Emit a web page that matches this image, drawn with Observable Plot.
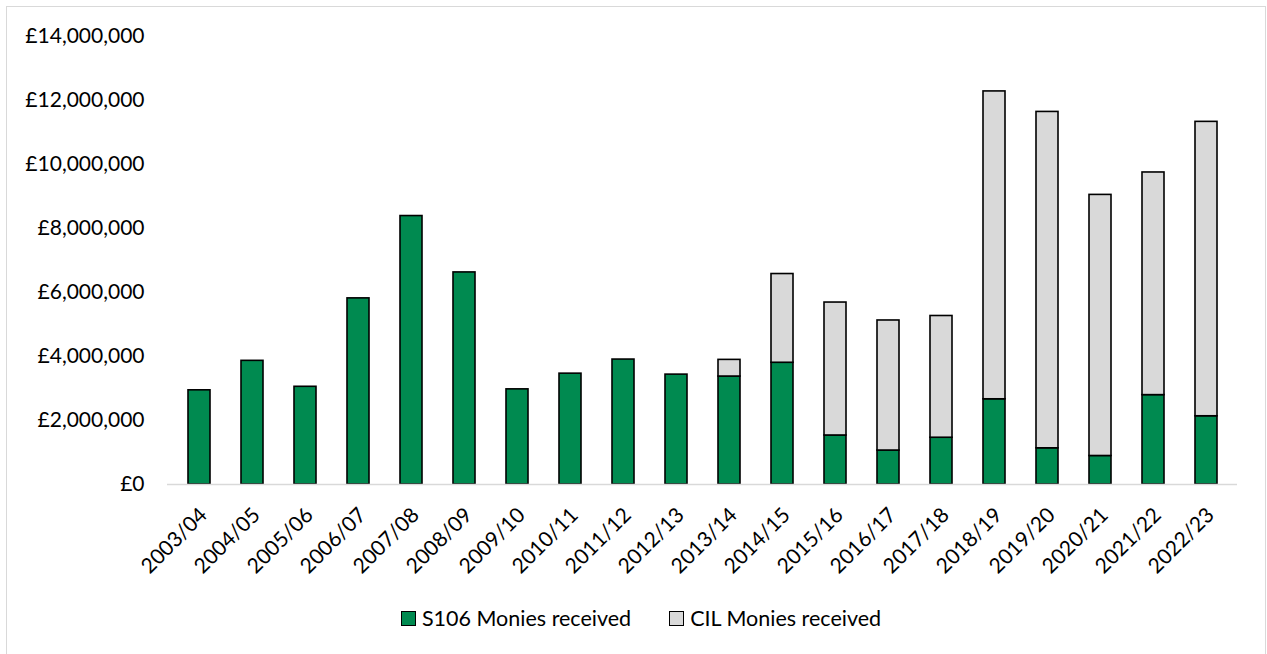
<!DOCTYPE html>
<html>
<head>
<meta charset="utf-8">
<script src="https://cdn.jsdelivr.net/npm/d3@7"></script>
<script src="https://cdn.jsdelivr.net/npm/@observablehq/plot@0.6"></script>
<style>
  html, body { margin: 0; padding: 0; background: #fff; }
  #frame {
    position: absolute; left: 6px; top: 6px; width: 1258px; height: 660px;
    border: 1px solid #d9d9d9; background: #fff;
    font-family: Lato, "Open Sans", sans-serif;
  }
  #chart { position: absolute; left: 0; top: 0; }
  #legend {
    position: absolute; left: 0; top: 598px; width: 1258px;
    display: flex; justify-content: center; gap: 38px;
    font-size: 21.5px; color: #000; padding-left: 10px; box-sizing: border-box;
  }
  .item { display: flex; align-items: center; }
  .sw { width: 13px; height: 13px; border: 1.5px solid #000; margin-right: 6px; }
</style>
</head>
<body>
<div id="frame">
  <div id="chart"></div>
  <div id="legend"></div>
</div>
<script>
const years = ["2003/04","2004/05","2005/06","2006/07","2007/08","2008/09","2009/10","2010/11","2011/12","2012/13","2013/14","2014/15","2015/16","2016/17","2017/18","2018/19","2019/20","2020/21","2021/22","2022/23"];
const s106 = [2940000,3860000,3050000,5810000,8380000,6620000,2970000,3460000,3900000,3430000,3370000,3800000,1530000,1060000,1460000,2660000,1130000,890000,2790000,2130000];
const cil  = [0,0,0,0,0,0,0,0,0,0,520000,2770000,4150000,4060000,3800000,9610000,10500000,8150000,6950000,9190000];
const seriesNames = ["S106 Monies received","CIL Monies received"];
const seriesColors = ["#008A50","#D9D9D9"];
const yTicks = [0,2000000,4000000,6000000,8000000,10000000,12000000,14000000];

const data = [];
years.forEach((y, i) => {
  data.push({year: y, series: seriesNames[0], value: s106[i]});
  data.push({year: y, series: seriesNames[1], value: cil[i]});
});

const fmt = d => "£" + d3.format(",")(d);

const chart = Plot.plot({
  width: 1258,
  height: 590,
  marginTop: 28.5,
  marginBottom: 113,
  marginLeft: 160,
  marginRight: 28,
  style: {fontFamily: "Lato, 'Open Sans', sans-serif", fontSize: "21px", color: "#000", background: "#fff"},
  x: {domain: years, paddingInner: 0.59, paddingOuter: 0.295},
  y: {domain: [0, 14000000]},
  color: {domain: seriesNames, range: seriesColors},
  marks: [
    Plot.barY(data, {x: "year", y: "value", fill: "series", stroke: "#000", strokeWidth: 1.6, order: seriesNames}),
    Plot.ruleY([0], {stroke: "#d9d9d9", strokeWidth: 1.5}),
    Plot.axisY(yTicks, {tickFormat: fmt, label: null, tickSize: 0, tickPadding: 23}),
    Plot.axisX({label: null, tickSize: 0, tickRotate: -45, tickPadding: 22, dx: 4, dy: 5})
  ]
});
document.getElementById("chart").appendChild(chart);

const legend = document.getElementById("legend");
seriesNames.forEach((n, i) => {
  const it = document.createElement("div");
  it.className = "item";
  const sw = document.createElement("div");
  sw.className = "sw";
  sw.style.background = seriesColors[i];
  const t = document.createElement("span");
  t.textContent = n;
  it.appendChild(sw); it.appendChild(t);
  legend.appendChild(it);
});
</script>
</body>
</html>
